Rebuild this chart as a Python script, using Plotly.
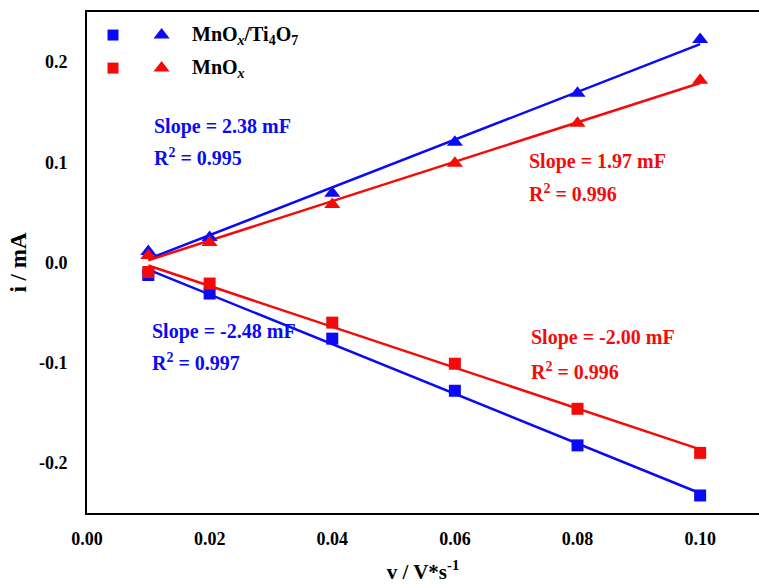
import numpy as np
import plotly.graph_objects as go

# ---- data ----
scan_rate = [0.01, 0.02, 0.04, 0.06, 0.08, 0.10]          # V/s
ti_anodic = [0.011, 0.025, 0.069, 0.120, 0.169, 0.2225]    # MnOx/Ti4O7, triangles
mn_anodic = [0.007, 0.020, 0.058, 0.099, 0.139, 0.182]     # MnOx, triangles
ti_cathodic = [-0.0125, -0.031, -0.076, -0.128, -0.1825, -0.2325]  # MnOx/Ti4O7, squares
mn_cathodic = [-0.0095, -0.021, -0.060, -0.101, -0.146, -0.190]    # MnOx, squares

x_ticks = [0.00, 0.02, 0.04, 0.06, 0.08, 0.10]
x_tick_text = ["0.00", "0.02", "0.04", "0.06", "0.08", "0.10"]
y_ticks = [-0.2, -0.1, 0.0, 0.1, 0.2]
y_tick_text = ["-0.2", "-0.1", "0.0", "0.1", "0.2"]

series_names = ["MnO<sub><i>x</i></sub>/Ti<sub>4</sub>O<sub>7</sub>", "MnO<sub><i>x</i></sub>"]
fit_labels = [
    ("Slope = 2.38 mF", "R<sup>2</sup> = 0.995"),
    ("Slope = 1.97 mF", "R<sup>2</sup> = 0.996"),
    ("Slope = -2.48 mF", "R<sup>2</sup> = 0.997"),
    ("Slope = -2.00 mF", "R<sup>2</sup> = 0.996"),
]

BLUE = "#0a0af5"
RED = "#f50a0a"
FONT = "Liberation Serif"

fig = go.Figure()

x = np.array(scan_rate)
series = [
    (ti_anodic, BLUE, "triangle-up"),
    (mn_anodic, RED, "triangle-up"),
    (ti_cathodic, BLUE, "square"),
    (mn_cathodic, RED, "square"),
]

# fit lines
for ys, col, sym in series:
    k, b = np.polyfit(x, np.array(ys), 1)
    xf = np.array([x.min(), x.max()])
    fig.add_trace(go.Scatter(x=xf, y=k * xf + b, mode="lines",
                             line=dict(color=col, width=2.5),
                             showlegend=False, hoverinfo="skip"))
# markers
for ys, col, sym in series:
    fig.add_trace(go.Scatter(x=scan_rate, y=ys, mode="markers",
                             marker=dict(color=col, symbol=sym, opacity=1,
                                         size=12 if sym == "square" else 14,
                                         line=dict(width=0)),
                             showlegend=False))

# hand-made legend (two symbols per entry) on an overlay paper-like axis
leg_rows = [(0.954, BLUE, series_names[0]), (0.888, RED, series_names[1])]
for yy, col, name in leg_rows:
    fig.add_trace(go.Scatter(x=[0.0387, 0.111], y=[yy, yy], mode="markers",
                             xaxis="x2", yaxis="y2",
                             marker=dict(color=col, symbol=["square", "triangle-up"], opacity=1,
                                         size=[11, 14], line=dict(width=0)),
                             showlegend=False, hoverinfo="skip"))
    fig.add_annotation(x=0.153, y=yy, xref="paper", yref="paper",
                       text="<b>" + name + "</b>", showarrow=False, xanchor="left", yanchor="middle",
                       font=dict(family=FONT, size=20, color="black"))

# fit annotations
ann_pos = [(0.0967, 0.772, 0.711, BLUE),
           (0.655, 0.701, 0.639, RED),
           (0.094, 0.363, 0.301, BLUE),
           (0.658, 0.351, 0.283, RED)]
for (s, r), (px, py1, py2, col) in zip(fit_labels, ann_pos):
    for txt, py in ((s, py1), (r, py2)):
        fig.add_annotation(x=px, y=py, xref="paper", yref="paper", text="<b>" + txt + "</b>",
                           showarrow=False, xanchor="left", yanchor="middle",
                           font=dict(family=FONT, size=20, color=col))

fig.update_layout(
    width=759, height=584,
    margin=dict(l=87, r=0, t=12, b=71),
    paper_bgcolor="white", plot_bgcolor="white",
    font=dict(family=FONT, size=18, color="black"),
    showlegend=False,
    xaxis=dict(range=[0, 0.1096], tickvals=x_ticks, ticktext=["<b>%s</b>" % t for t in x_tick_text],
               showgrid=False, zeroline=False, showline=True, linecolor="black", linewidth=2,
               mirror=True, ticks="", ticklabelstandoff=8,
               tickfont=dict(family=FONT, size=18),
               title=dict(text="<b>v / V*s<sup>-1</sup></b>", font=dict(family=FONT, size=21),
                          standoff=20)),
    yaxis=dict(range=[-0.25, 0.25], tickvals=y_ticks, ticktext=["<b>%s</b>" % t for t in y_tick_text],
               showgrid=False, zeroline=False, showline=True, linecolor="black", linewidth=2,
               mirror=False, ticks="", ticklabelstandoff=14,
               tickfont=dict(family=FONT, size=18),
               title=dict(text="<b>i / mA</b>", font=dict(family=FONT, size=23), standoff=6)),
    xaxis2=dict(range=[0, 1], overlaying="x", visible=False),
    yaxis2=dict(range=[0, 1], overlaying="y", visible=False),
)

fig.write_html("out.html", config={"displayModeBar": False},
               post_script="document.body.style.margin='0';document.body.style.padding='0';")
